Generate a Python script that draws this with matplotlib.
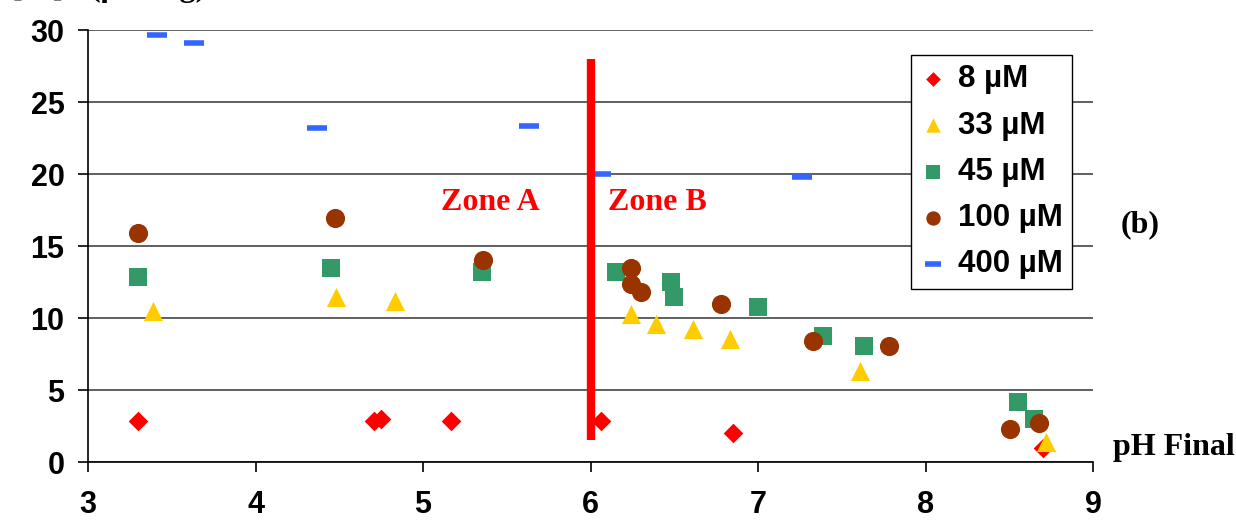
import matplotlib
matplotlib.use('Agg')
import matplotlib.pyplot as plt

# pH final / quantité fixée, par concentration initiale
ph_8 = [3.30, 4.71, 4.75, 5.17, 6.06, 6.85, 8.70]
q_8 = [2.85, 2.85, 2.99, 2.85, 2.85, 2.01, 0.95]

ph_33 = [3.39, 4.48, 4.83, 6.24, 6.39, 6.61, 6.83, 7.61, 8.72]
q_33 = [10.5, 11.46, 11.2, 10.26, 9.58, 9.24, 8.54, 6.34, 1.41]

ph_45 = [3.30, 4.45, 5.35, 6.15, 6.48, 6.50, 7.00, 7.39, 7.63, 8.55, 8.65]
q_45 = [12.85, 13.47, 13.19, 13.17, 12.48, 11.48, 10.79, 8.77, 8.08, 4.19, 2.99]

ph_100 = [3.30, 4.475, 5.36, 6.24, 6.24, 6.30, 6.78, 7.33, 7.78, 8.505, 8.676]
q_100 = [15.88, 16.92, 14.03, 13.5, 12.34, 11.8, 10.97, 8.42, 8.08, 2.31, 2.68]

ph_400 = [3.41, 3.63, 4.37, 5.63, 6.06, 7.26]
q_400 = [29.62, 29.12, 23.17, 23.35, 20.0, 19.8]

series_labels = ['8 µM', '33 µM', '45 µM', '100 µM', '400 µM']
x_ticks = [3, 4, 5, 6, 7, 8, 9]
y_ticks = [0, 5, 10, 15, 20, 25, 30]
limite_ph = 6
limite_q = [1.5, 28]

fig = plt.figure(figsize=(12.36, 5.2), dpi=100)
ax = fig.add_axes([88/1236, 1-462/520, (1093-88)/1236, (462-30)/520])

ax.scatter(ph_8, q_8, marker='D', s=100, color='#FF0000', label=series_labels[0], zorder=3, linewidths=0)
ax.scatter(ph_33, q_33, marker='^', s=190, color='#FFCC00', label=series_labels[1], zorder=3, linewidths=0)
ax.scatter(ph_45, q_45, marker='s', s=170, color='#339966', label=series_labels[2], zorder=3, linewidths=0)
ax.scatter(ph_100, q_100, marker='o', s=190, color='#993300', label=series_labels[3], zorder=3, linewidths=0)
ax.scatter(ph_400, q_400, marker='_', s=220, color='#3366FF', label=series_labels[4], zorder=3, linewidths=4)

ax.plot([limite_ph, limite_ph], limite_q, color='#FF0000', lw=6, solid_capstyle='butt', zorder=4)

ax.set_xlim(3, 9)
ax.set_ylim(0, 30)
ax.set_xticks(x_ticks)
ax.set_yticks(y_ticks)
ax.yaxis.grid(True, color='#444444', lw=1.2)
ax.set_axisbelow(True)
for s in ['top', 'right']:
    ax.spines[s].set_visible(False)
ax.spines['left'].set_linewidth(1.2)
ax.spines['bottom'].set_linewidth(1.2)
ax.tick_params(axis='x', length=7, width=1.2, pad=13, labelsize=22)
ax.tick_params(axis='y', length=7, width=1.2, pad=10, labelsize=22)
for lab in ax.get_xticklabels() + ax.get_yticklabels():
    lab.set_fontfamily('Liberation Sans')
    lab.set_fontweight('bold')

leg = ax.legend(loc='upper left', bbox_to_anchor=(911/1236, 1-55/520), bbox_transform=fig.transFigure,
                prop={'family': 'Liberation Sans', 'weight': 'bold', 'size': 22.5},
                frameon=True, fancybox=False, edgecolor='black', framealpha=1,
                labelspacing=0.52, handlelength=0.8, handletextpad=0.4, borderpad=0.3,
                borderaxespad=0, markerscale=0.75)
leg.get_frame().set_linewidth(1.0)

serif = {'family': 'Liberation Serif', 'weight': 'bold', 'size': 23}
ax.text(5.40, 18.05, 'Zone A', color='#FF0000', ha='center', va='center', **serif)
ax.text(6.40, 18.05, 'Zone B', color='#FF0000', ha='center', va='center', **serif)
fig.text(1140/1236, 1-225/520, '(b)', ha='center', va='center', **serif)
fig.text(1174/1236, 1-448/520, 'pH Final', ha='center', va='center', **serif)
fig.text(12/1236, 1-(-12)/520, '[M]F (µmol/g)', ha='left', va='center', **serif)

fig.savefig('out.png', dpi=100)
